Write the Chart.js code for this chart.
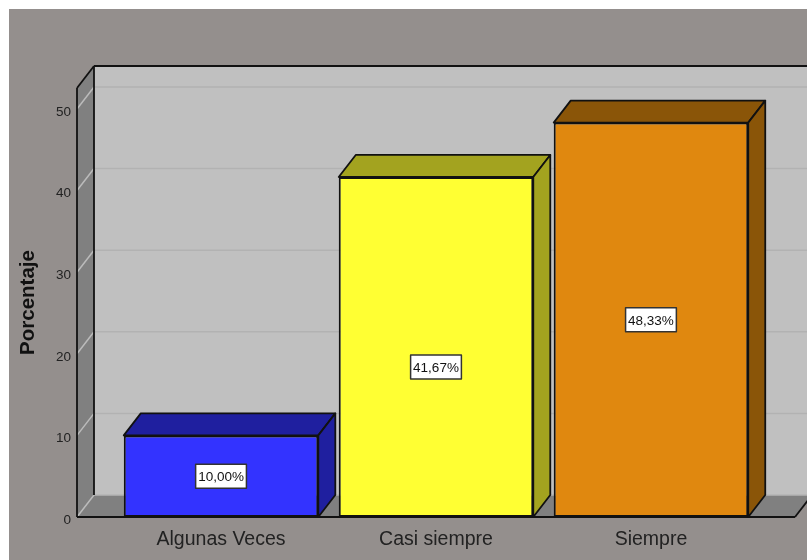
<!DOCTYPE html>
<html>
<head>
<meta charset="utf-8">
<title>Porcentaje</title>
<script src="https://cdn.jsdelivr.net/npm/chart.js@4"></script>
<style>
    html, body { margin: 0; padding: 0; background: #fff; }
    canvas { display: block; }
</style>
</head>
<body>
<canvas id="grafica" width="807" height="560"></canvas>
<script>
const categorias = ['Algunas Veces', 'Casi siempre', 'Siempre'];
const porcentajes = [10.00, 41.67, 48.33];
const marcasY = [0, 10, 20, 30, 40, 50];
const coloresFrente = ['#3333ff', '#ffff33', '#e0880f'];
const coloresOscuros = ['#1f1f9f', '#a3a31f', '#8a5508'];
// la etiqueta de la barra central no esta en el centro exacto
const ajusteEtiqueta = [0, 20, 0];

const fondoGris = '#948f8d';
const paredFondo = '#c0c0c0';
const paredLado = '#808080';
const prof = { x: 17, y: -22 };

function linea(ctx, x1, y1, x2, y2, color, ancho) {
    ctx.strokeStyle = color;
    ctx.lineWidth = ancho;
    ctx.beginPath();
    ctx.moveTo(x1, y1);
    ctx.lineTo(x2, y2);
    ctx.stroke();
}

function poligono(ctx, puntos, relleno, borde) {
    ctx.beginPath();
    puntos.forEach((p, i) => i ? ctx.lineTo(p[0], p[1]) : ctx.moveTo(p[0], p[1]));
    ctx.closePath();
    ctx.fillStyle = relleno;
    ctx.fill();
    if (borde) {
        ctx.strokeStyle = borde;
        ctx.lineWidth = 1.8;
        ctx.lineJoin = 'round';
        ctx.stroke();
    }
}

// Fondo y paredes de la caja 3D
const caja3d = {
    id: 'caja3d',
    beforeDraw(chart) {
        const ctx = chart.ctx;
        ctx.save();
        ctx.fillStyle = fondoGris;
        ctx.fillRect(9, 9, chart.width - 9, chart.height - 9);
        ctx.restore();
    },
    beforeDatasetsDraw(chart) {
        const ctx = chart.ctx;
        const { left, right, top, bottom } = chart.chartArea;
        const dx = prof.x, dy = prof.y;
        const y = chart.scales.y;
        ctx.save();
        ctx.fillStyle = paredFondo;
        ctx.fillRect(left + dx, top + dy, right - left, bottom - top);
        poligono(ctx, [[left, top], [left + dx, top + dy], [left + dx, bottom + dy], [left, bottom]], paredLado);
        poligono(ctx, [[left, bottom], [left + dx, bottom + dy], [right + dx, bottom + dy], [right, bottom]], paredLado);

        marcasY.forEach(v => {
            const py = y.getPixelForValue(v);
            if (v > 0) linea(ctx, left + dx, py + dy, right + dx, py + dy, '#b2b2b2', 1.5);
            linea(ctx, left, py, left + dx, py + dy, '#bbb', 1.5);
        });
        linea(ctx, left + dx, bottom + dy, right + dx, bottom + dy, '#b4b4b4', 1.5);

        linea(ctx, left, top, left, bottom, '#111', 1.8);
        linea(ctx, left, top, left + dx, top + dy, '#111', 1.8);
        linea(ctx, left + dx, top + dy, right + dx, top + dy, '#111', 1.8);
        linea(ctx, left + dx, top + dy, left + dx, bottom + dy, '#111', 1.8);
        linea(ctx, left, bottom, right, bottom, '#111', 2);
        linea(ctx, right, bottom, right + dx, bottom + dy, '#111', 1.8);
        ctx.restore();
    },
    afterDatasetsDraw(chart) {
        const ctx = chart.ctx;
        const dx = prof.x, dy = prof.y;
        const barras = chart.getDatasetMeta(0).data;
        ctx.save();
        barras.forEach((b, i) => {
            const izq = b.x - b.width / 2, der = b.x + b.width / 2;
            poligono(ctx, [[izq, b.y], [izq + dx, b.y + dy], [der + dx, b.y + dy], [der, b.y]], coloresOscuros[i], '#111');
            poligono(ctx, [[der, b.y], [der + dx, b.y + dy], [der + dx, b.base + dy], [der, b.base]], coloresOscuros[i], '#111');
        });
        // Etiquetas de valor
        ctx.font = '13.5px "Liberation Sans", Arial, sans-serif';
        ctx.textAlign = 'center';
        ctx.textBaseline = 'middle';
        barras.forEach((b, i) => {
            const txt = porcentajes[i].toFixed(2).replace('.', ',') + '%';
            const cy = (b.y + b.base) / 2 + ajusteEtiqueta[i];
            const w = ctx.measureText(txt).width + 5;
            ctx.fillStyle = '#fff';
            ctx.fillRect(b.x - w / 2, cy - 12, w, 24);
            ctx.strokeStyle = '#333';
            ctx.lineWidth = 1.5;
            ctx.strokeRect(b.x - w / 2, cy - 12, w, 24);
            ctx.fillStyle = '#111';
            ctx.fillText(txt, b.x, cy + 1);
        });
        ctx.restore();
    }
};

new Chart(document.getElementById('grafica'), {
    type: 'bar',
    data: {
        datasets: [{
            data: categorias.map((c, i) => ({ x: i + 1, y: porcentajes[i] })),
            backgroundColor: coloresFrente,
            borderColor: '#111',
            borderWidth: 2,
            borderSkipped: false,
            barPercentage: 0.905,
            categoryPercentage: 1
        }]
    },
    options: {
        responsive: false,
        animation: false,
        layout: { padding: { top: 88, right: 12, bottom: 0, left: 0 } },
        plugins: { legend: { display: false }, tooltip: { enabled: false } },
        scales: {
            x: {
                type: 'linear',
                offset: false,
                min: 0.33,
                max: 3.67,
                afterFit: s => { s.height = 43; },
                afterBuildTicks: s => { s.ticks = categorias.map((c, i) => ({ value: i + 1 })); },
                grid: { display: false },
                border: { display: false },
                ticks: {
                    autoSkip: false,
                    maxRotation: 0,
                    padding: 3,
                    color: '#222',
                    font: { family: '"Liberation Sans", Arial, sans-serif', size: 19.5 },
                    callback: v => categorias[v - 1]
                }
            },
            y: {
                min: 0,
                max: 52.57,
                afterFit: s => { s.width = 77; },
                afterBuildTicks: s => { s.ticks = marcasY.map(v => ({ value: v })); },
                grid: { display: false, tickLength: 0 },
                border: { display: false },
                ticks: {
                    padding: 6,
                    labelOffset: 3,
                    color: '#222',
                    font: { family: '"Liberation Sans", Arial, sans-serif', size: 13.5 }
                },
                title: {
                    display: true,
                    text: 'Porcentaje',
                    color: '#111',
                    padding: { top: 16, bottom: 0 },
                    font: { family: '"Liberation Sans", Arial, sans-serif', size: 20.5, weight: 'bold' }
                }
            }
        }
    },
    plugins: [caja3d]
});
</script>
</body>
</html>
